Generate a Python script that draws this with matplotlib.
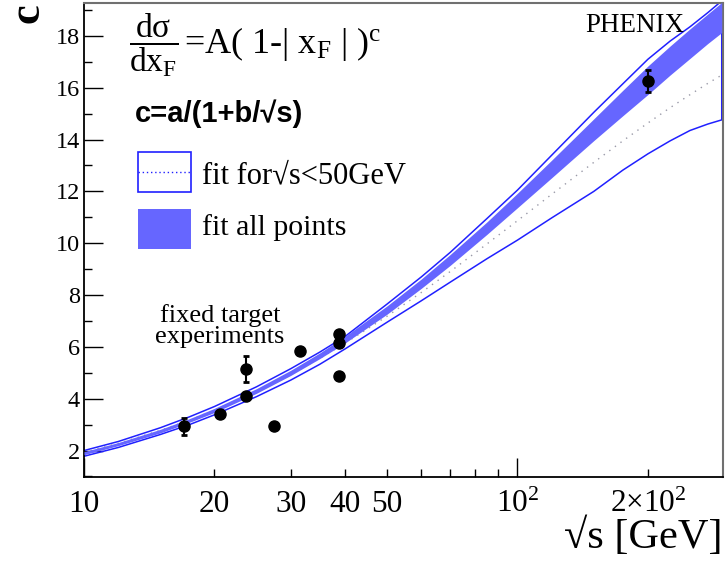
import matplotlib
matplotlib.use("Agg")
import matplotlib.pyplot as plt
from matplotlib.ticker import FixedLocator, FixedFormatter, NullFormatter
from matplotlib.patches import Rectangle
from matplotlib.lines import Line2D

plt.rcParams['font.family'] = ['Liberation Serif', 'DejaVu Serif']
plt.rcParams['mathtext.fontset'] = 'custom'
plt.rcParams['mathtext.rm'] = 'Liberation Serif'
plt.rcParams['mathtext.it'] = 'Liberation Serif'
plt.rcParams['mathtext.bf'] = 'Liberation Serif:bold'

# ---------------- data ----------------
# measured points: sqrt(s) [GeV], c, error
pt_x = [17.0, 20.6, 23.7, 23.7, 27.4, 31.5, 38.8, 38.8, 38.8, 200.0]
pt_c = [2.93, 3.43, 4.10, 5.16, 2.93, 5.86, 6.51, 6.16, 4.89, 16.25]
pt_err = [0.34, 0.0, 0.0, 0.50, 0.0, 0.0, 0.0, 0.0, 0.0, 0.42]

# fit curves
x_fit = [10, 12, 15, 17.5, 20, 25, 30, 35, 40, 50, 60, 70, 85, 100, 120, 150, 175, 200, 225, 250, 275, 296]
# fit all points: band
all_lo = [1.84, 2.19, 2.68, 3.09, 3.47, 4.21, 4.90, 5.55, 6.15, 7.26, 8.26, 9.15, 10.34, 11.37,
          12.53, 13.96, 14.92, 15.74, 16.49, 17.13, 17.71, 18.13]
all_hi = [1.96, 2.31, 2.82, 3.23, 3.63, 4.39, 5.10, 5.77, 6.41, 7.58, 8.62, 9.57, 10.82, 11.93,
          13.21, 14.80, 15.90, 16.84, 17.61, 18.27, 18.85, 19.29]
# fit for sqrt(s) < 50 GeV: outline band and central (dotted) curve
lt50_lo = [1.78, 2.12, 2.62, 3.00, 3.38, 4.08, 4.72, 5.33, 5.92, 6.95, 7.78, 8.50, 9.40, 10.12,
           10.98, 12.00, 12.82, 13.45, 13.95, 14.35, 14.60, 14.76]
lt50_hi = [2.00, 2.35, 2.88, 3.30, 3.70, 4.46, 5.16, 5.80, 6.40, 7.65, 8.70, 9.65, 10.95, 12.05,
           13.40, 15.05, 16.15, 17.10, 17.80, 18.35, 18.90, 19.35]
lt50_mid = [1.93, 2.28, 2.78, 3.17, 3.56, 4.28, 4.94, 5.56, 6.14, 7.18, 8.10, 8.91, 9.97, 10.87,
            11.89, 13.12, 13.95, 14.64, 15.23, 15.73, 16.17, 16.49]

x_major = [10, 100]
x_major_labels = ['10', r'$\mathregular{10^2}$']
x_minor = [20, 30, 40, 50, 60, 70, 80, 90, 200]
x_minor_labels = ['20', '30', '40', '50', '', '', '', '', r'$\mathregular{2{\times}10^2}$']
y_major = [2, 4, 6, 8, 10, 12, 14, 16, 18]
y_minor = [1, 3, 5, 7, 9, 11, 13, 15, 17, 19]

W, H = 726, 561
fig = plt.figure(figsize=(W / 100, H / 100), dpi=100)
ax = fig.add_axes([84 / W, 1 - 477 / H, (723 - 84) / W, (477 - 3) / H])

BLUE = '#2020ff'
BAND = '#6666ff'

# outline band (fit for sqrt(s) < 50 GeV)
poly_x = list(x_fit) + list(x_fit[::-1]) + [x_fit[0]]
poly_y = list(lt50_hi) + list(lt50_lo[::-1]) + [lt50_hi[0]]
ax.plot(poly_x, poly_y, color=BLUE, lw=1.1, zorder=2)
ax.plot(x_fit, lt50_mid, color='#9a9aa8', lw=1.0, ls=(0, (1, 4)), zorder=2)
# filled band (fit all points)
ax.fill_between(x_fit, all_lo, all_hi, color=BAND, lw=0, zorder=3)

# data points
ax.errorbar(pt_x, pt_c, yerr=pt_err, fmt='o', color='black', ms=8,
            elinewidth=1.5, capsize=2.5, capthick=2, zorder=5)

ax.set_xscale('log')
ax.set_xlim(10, 298)
ax.set_ylim(0.98, 19.27)

ax.xaxis.set_major_locator(FixedLocator(x_major))
ax.xaxis.set_major_formatter(FixedFormatter(x_major_labels))
ax.xaxis.set_minor_locator(FixedLocator(x_minor))
ax.xaxis.set_minor_formatter(FixedFormatter(x_minor_labels))
ax.yaxis.set_major_locator(FixedLocator(y_major))
ax.yaxis.set_minor_locator(FixedLocator(y_minor))
ax.yaxis.set_minor_formatter(NullFormatter())

ax.tick_params(axis='both', which='both', direction='in', width=1.0, top=False, right=False)
ax.tick_params(axis='both', which='major', length=14)
ax.tick_params(axis='both', which='minor', length=6)
ax.tick_params(axis='x', which='both', pad=9, labelsize=22.5)
ax.tick_params(axis='y', which='both', pad=3, labelsize=17.5)

for s in ['left', 'bottom']:
    ax.spines[s].set_linewidth(1.3)
    ax.spines[s].set_color('black')
for s in ['top', 'right']:
    ax.spines[s].set_linewidth(1.5)
    ax.spines[s].set_color('#707070')


def P(x, y):
    return (x / W, 1 - y / H)

# formula
fig.text(*P(129, 12), r'$\dfrac{\mathregular{dσ}}{\mathregular{dx_F}}$', fontsize=24,
         ha='left', va='top')
fig.text(*P(184, 53), r'=A( 1-| x$_\mathregular{F}$ | )$^\mathregular{c}$', fontsize=26,
         ha='left', va='baseline')
fig.text(*P(135, 122), 'c=a/(1+b/√s)', fontsize=21, fontweight='bold',
         family=['Liberation Sans', 'DejaVu Sans'], ha='left', va='baseline')

# legend
fig.add_artist(Rectangle((138 / W, 1 - 192 / H), 53 / W, 40 / H, transform=fig.transFigure,
                         facecolor='white', edgecolor=BLUE, lw=1.2))
fig.add_artist(Line2D([138 / W, 191 / W], [1 - 172 / H, 1 - 172 / H], color=BLUE, lw=1.0,
                      ls=(0, (1, 2))))
fig.add_artist(Rectangle((138 / W, 1 - 249 / H), 53 / W, 40 / H, transform=fig.transFigure,
                         facecolor=BAND, edgecolor='none'))
fig.text(*P(202, 183), 'fit for√s<50GeV', fontsize=22, ha='left', va='baseline')
fig.text(*P(202, 235), 'fit all points', fontsize=21.5, ha='left', va='baseline')

# annotations
fig.text(*P(220, 322), 'fixed target', fontsize=19, ha='center', va='baseline')
fig.text(*P(220, 343), 'experiments', fontsize=19, ha='center', va='baseline')
fig.text(*P(635, 32), 'PHENIX', fontsize=19.5, ha='center', va='baseline')

# axis labels
fig.text(*P(723, 548), '√s [GeV]', fontsize=30.5, ha='right', va='baseline')
fig.text(*P(27, 13), 'c', fontsize=32, fontweight='bold', rotation=90, ha='center', va='center')

fig.savefig('out.png', dpi=100)
